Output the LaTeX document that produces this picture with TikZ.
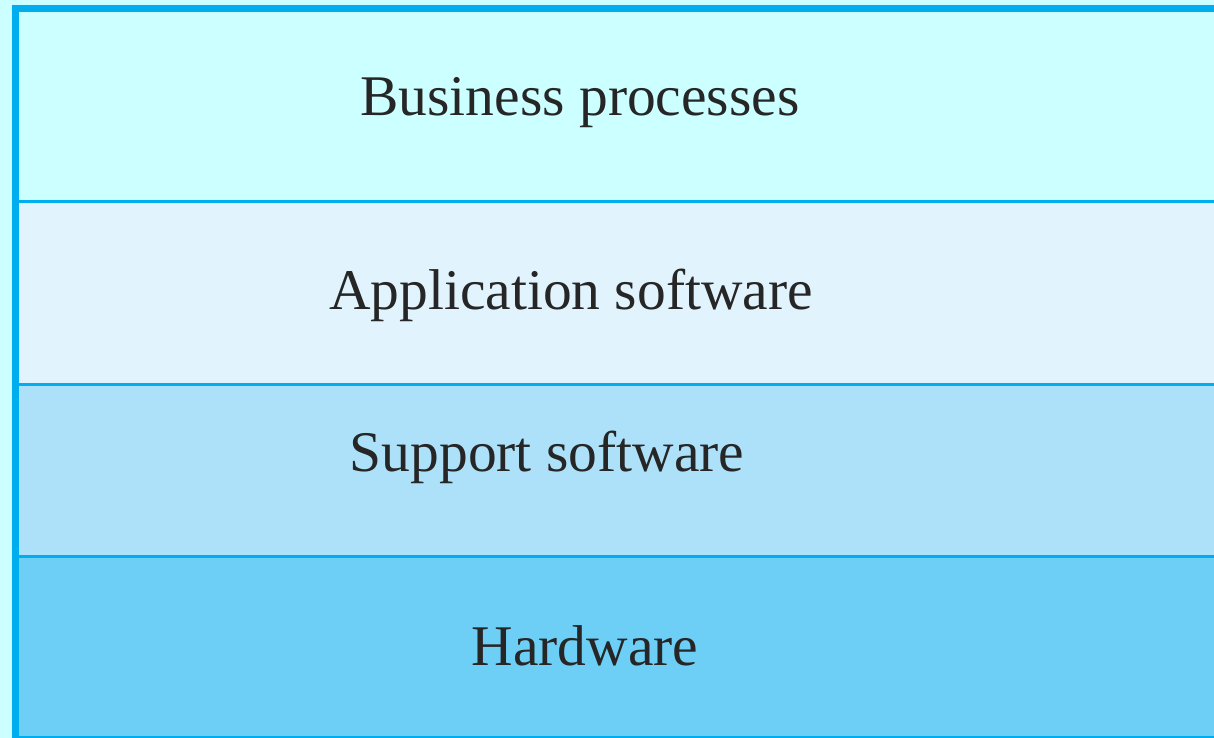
\documentclass[tikz,border=0pt]{standalone}
\usepackage{fontspec}
\setmainfont{Liberation Serif}
\definecolor{bgc}{HTML}{CCFFFF}
\definecolor{l1}{HTML}{CCFFFF}
\definecolor{l2}{HTML}{E1F3FC}
\definecolor{l3}{HTML}{ADE1F9}
\definecolor{l4}{HTML}{6DCFF6}
\definecolor{edge}{HTML}{00AEEF}
\begin{document}
\begin{tikzpicture}[x=1pt,y=-1pt,
  lbl/.style={font=\fontsize{57.5}{60}\selectfont, text=black!85, inner sep=0pt, anchor=base},
  divider/.style={draw=edge, line width=3pt}]
\fill[bgc] (0,0) rectangle (1214,738);
\useasboundingbox (0,0) rectangle (1214,738);
\fill[l1] (15,8) rectangle (1214,201);
\fill[l2] (15,201) rectangle (1214,384);
\fill[l3] (15,384) rectangle (1214,556);
\fill[l4] (15,556) rectangle (1214,738);
\draw[divider] (15,201) -- (1214,201);
\draw[divider] (15,384) -- (1214,384);
\draw[divider] (15,556) -- (1214,556);
\draw[edge, line width=2pt] (15,737) -- (1214,737);
\draw[edge, line width=7pt] (15.5,740) -- (15.5,8.5) -- (1214,8.5);
\node[lbl] (bp) at (580,116) {Business processes};
\node[lbl] (as) at (571,309) {Application software};
\node[lbl] (ss) at (547,471) {Support software};
\node[lbl] (hw) at (585,665) {Hardware};
\end{tikzpicture}
\end{document}
